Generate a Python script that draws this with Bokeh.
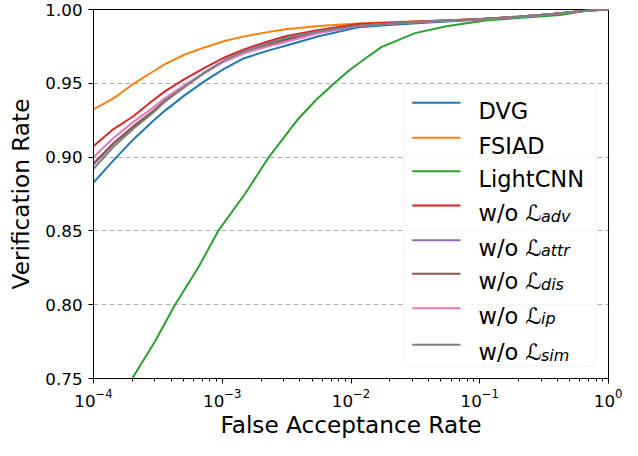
from bokeh.plotting import figure
from bokeh.models import (Range1d, FixedTicker, NumeralTickFormatter, LogTickFormatter,
                          Label, BoxAnnotation, Arrow)
from bokeh.embed import file_html
from bokeh.resources import INLINE

FONT = "DejaVu Sans"

# ---------------- data ----------------
far = [1e-4, 1.43e-4, 2.03e-4, 2.9e-4, 3.59e-4, 5.12e-4, 7.3e-4, 1.04e-3, 1.48e-3,
       2.2e-3, 3.1e-3, 5.6e-3, 1.14e-2, 2.0e-2, 3.5e-2, 6e-2, 0.1, 0.2, 0.35, 0.68, 1.0]

vr_dvg = [0.8827, 0.8978, 0.9118, 0.9245, 0.9315, 0.942, 0.9515, 0.960, 0.967,
          0.9718, 0.9754, 0.9819, 0.9879, 0.9895, 0.9908, 0.992, 0.993, 0.9948, 0.9966, 0.9992, 1.0]
vr_fsiad = [0.9323, 0.9398, 0.9495, 0.958, 0.963, 0.9695, 0.9743, 0.9787, 0.9818,
            0.9845, 0.9866, 0.9888, 0.9905, 0.9913, 0.992, 0.9928, 0.9935, 0.9952, 0.9968, 0.9993, 1.0]
vr_adv = [0.9075, 0.919, 0.9275, 0.9385, 0.9445, 0.953, 0.9605, 0.9675, 0.973,
          0.978, 0.9819, 0.9862, 0.9901, 0.9911, 0.992, 0.9928, 0.9935, 0.9952, 0.9968, 0.9993, 1.0]
vr_attr = [0.895, 0.909, 0.9203, 0.9308, 0.938, 0.9478, 0.9571, 0.965, 0.9708,
           0.9755, 0.979, 0.9843, 0.9889, 0.9904, 0.9916, 0.9926, 0.9934, 0.9951, 0.9968, 0.9993, 1.0]
vr_dis = [0.8957, 0.9095, 0.9208, 0.9312, 0.9383, 0.948, 0.9573, 0.9652, 0.971,
          0.9758, 0.9798, 0.9848, 0.9889, 0.9904, 0.9916, 0.9926, 0.9934, 0.9951, 0.9968, 0.9993, 1.0]
vr_ip = [0.900, 0.9129, 0.9237, 0.9335, 0.940, 0.949, 0.9575, 0.9648, 0.9705,
         0.9748, 0.978, 0.9841, 0.9888, 0.9903, 0.9915, 0.9925, 0.9933, 0.995, 0.9967, 0.9992, 1.0]
vr_sim = [0.892, 0.907, 0.919, 0.930, 0.9375, 0.9475, 0.9575, 0.9658, 0.9718,
          0.9768, 0.9808, 0.9851, 0.989, 0.9905, 0.9917, 0.9927, 0.9934, 0.9951, 0.9968, 0.9993, 1.0]

far_lightcnn = [1e-4, 2.0e-4, 3.0e-4, 4.3e-4, 6.5e-4, 9.3e-4, 1.5e-3, 2.3e-3, 3.9e-3,
                5.4e-3, 7.3e-3, 9.6e-3, 1.3e-2, 1.72e-2, 3.14e-2, 5.64e-2, 0.115, 0.42, 0.68, 1.0]
vr_lightcnn = [0.705, 0.750, 0.775, 0.800, 0.825, 0.850, 0.875, 0.900, 0.926,
               0.939, 0.9495, 0.9585, 0.967, 0.9745, 0.984, 0.9888, 0.9927, 0.9963, 0.9992, 1.0]

names = ["DVG", "FSIAD", "LightCNN", "adv", "attr", "dis", "ip", "sim"]
colors = ["#1f77b4", "#ff7f0e", "#2ca02c", "#d62728", "#9467bd", "#8c564b", "#e377c2", "#7f7f7f"]
xs = [far, far, far_lightcnn, far, far, far, far, far]
ys = [vr_dvg, vr_fsiad, vr_lightcnn, vr_adv, vr_attr, vr_dis, vr_ip, vr_sim]

y_ticks = [0.75, 0.80, 0.85, 0.90, 0.95, 1.00]
x_decades = [1e-4, 1e-3, 1e-2, 1e-1, 1.0]

# ---------------- figure ----------------
FW = 515  # frame width (622 - 93 - 14)
p = figure(width=622, height=440, x_axis_type="log",
           x_range=Range1d(1e-4, 1.0), y_range=Range1d(0.75, 1.0),
           output_backend="svg", toolbar_location=None,
           min_border_left=93, min_border_right=14, min_border_top=9, min_border_bottom=51)
p.outline_line_color = "black"
p.outline_line_width = 1
p.outline_line_alpha = 1
p.background_fill_color = "white"
p.border_fill_color = "white"

p.xgrid.visible = False
p.ygrid.grid_line_color = "#b0b0b0"
p.ygrid.grid_line_dash = "5 3"
p.ygrid.grid_line_width = 1

minor = [m * d for d in x_decades[:-1] for m in range(2, 10)]
p.xaxis.ticker = FixedTicker(ticks=x_decades, minor_ticks=minor)
p.xaxis.formatter = LogTickFormatter()
p.yaxis.ticker = FixedTicker(ticks=y_ticks)
p.yaxis.formatter = NumeralTickFormatter(format="0.00")

for ax in (p.xaxis[0], p.yaxis[0]):
    ax.axis_line_color = "black"
    ax.major_tick_line_color = "black"
    ax.minor_tick_line_color = "black"
    ax.major_tick_in = 0
    ax.major_tick_out = 5
    ax.minor_tick_in = 0
    ax.minor_tick_out = 3
    ax.major_label_text_font = FONT
    ax.major_label_text_font_size = "16.7px"
    ax.major_label_text_color = "black"
    ax.axis_label_text_font = FONT
    ax.axis_label_text_font_size = "23.2px"
    ax.axis_label_text_font_style = "normal"
    ax.axis_label_text_color = "black"
p.yaxis.minor_tick_line_color = None
p.yaxis.major_label_standoff = 6
p.yaxis.axis_label = "Verification Rate"
p.yaxis.axis_label_standoff = 8
p.xaxis.major_label_standoff = 5
p.xaxis.axis_label = "False Acceptance Rate"
p.xaxis.axis_label_standoff = 1

for x, y, c in zip(xs, ys, colors):
    p.line(x, y, line_color=c, line_width=2)

# ---------------- legend (drawn by hand for the math subscripts) ----------------
box = BoxAnnotation(left=FW - 204.7, right=FW - 12.7, bottom=12.5, top=294,
                    left_units="screen", right_units="screen",
                    bottom_units="screen", top_units="screen",
                    fill_color="white", fill_alpha=0.8,
                    line_color="#cccccc", line_width=1, border_radius=4)
p.add_layout(box)

row_y = [275.7, 240.7, 207.3, 173, 138.3, 104.7, 70.3, 33.7]
for i, (n, c) in enumerate(zip(names, colors)):
    ry = row_y[i]
    p.add_layout(Arrow(x_start=FW - 196.3, y_start=ry, x_end=FW - 148, y_end=ry,
                       start_units="screen", end_units="screen",
                       start=None, end=None, line_color=c, line_width=2))
    if i < 3:
        p.add_layout(Label(x=FW - 130, y=ry - 8, x_units="screen", y_units="screen", text=n,
                           text_baseline="alphabetic", text_font=FONT,
                           text_font_size="22.5px", text_color="black"))
    else:
        p.add_layout(Label(x=FW - 130, y=ry - 7.5, x_units="screen", y_units="screen", text="w/o",
                           text_baseline="alphabetic", text_font=FONT,
                           text_font_size="22.5px", text_color="black"))
        p.add_layout(Label(x=FW - 83, y=ry - 7.5, x_units="screen", y_units="screen", text="\u2112",
                           text_baseline="alphabetic", text_font=FONT,
                           text_font_size="22.5px", text_color="black"))
        p.add_layout(Label(x=FW - 67.5, y=ry - 10.5, x_units="screen", y_units="screen", text=n,
                           text_baseline="alphabetic", text_font=FONT, text_font_style="italic",
                           text_font_size="16px", text_color="black"))

open("out.html", "w").write(file_html(p, INLINE))
